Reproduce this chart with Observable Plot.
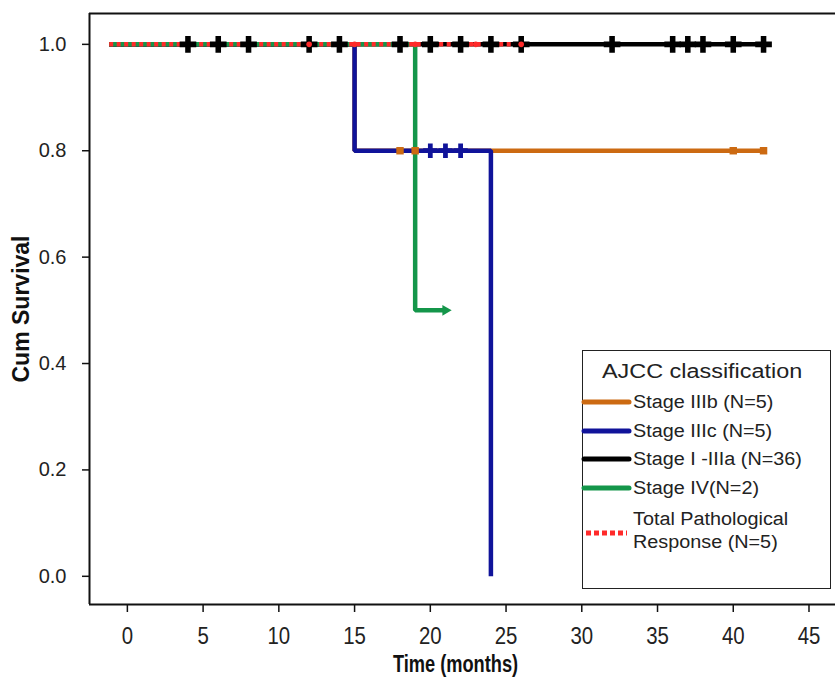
<!DOCTYPE html>
<html>
<head>
<meta charset="utf-8">
<script src="https://cdn.jsdelivr.net/npm/d3@7"></script>
<script src="https://cdn.jsdelivr.net/npm/@observablehq/plot@0.6"></script>
<style>
  html, body { margin: 0; padding: 0; background: #fff; overflow: hidden; }
  #wrap { position: relative; width: 835px; height: 678px; font-family: "Liberation Sans", Arial, sans-serif; color: #222; }
  #legend { position: absolute; left: 582px; top: 350px; width: 249px; height: 239px; border: 1.5px solid #222; background: #fff; box-sizing: border-box; }
  #legend .title { position: absolute; left: 19px; top: 370px; font-size: 20px; white-space: nowrap; transform-origin: left center; transform: translateY(-50%) scaleX(1.17); }
  #legend .lbl { position: absolute; left: 50px; font-size: 18px; white-space: nowrap; transform-origin: left center; transform: translateY(-50%) scaleX(1.1); }
  #legend svg { position: absolute; left: 0; overflow: visible; }
</style>
</head>
<body>
<div id="wrap"><div id="chart"></div><div id="legend"></div></div>
<script>
// ---------------- data ----------------
const seriesNames = ["Stage IIIb (N=5)", "Stage IIIc (N=5)", "Stage I -IIIa (N=36)", "Stage IV(N=2)", "Total Pathological Response (N=5)"];
const seriesColors = ["#cc6a12", "#10139a", "#000000", "#14964a", "#ff2a2a"];

// Kaplan–Meier step points (time in months, cumulative survival)
const stageIIIbTime = [-1.2, 15, 42];
const stageIIIbSurv = [1.0, 0.8, 0.8];
const stageIIIcTime = [-1.2, 15, 24];
const stageIIIcSurv = [1.0, 0.8, 0.0];
const stageIaTime   = [-1.2, 42];
const stageIaSurv   = [1.0, 1.0];
const stageIVTime   = [-1.2, 19, 20.9];
const stageIVSurv   = [1.0, 0.5, 0.5];
const tprTime       = [-1.2, 26];
const tprSurv       = [1.0, 1.0];

// censored observations
const stageIaCensor   = [4, 6, 8, 12, 14, 18, 20, 22, 24, 26, 32, 36, 37, 38, 40, 42];
const stageIIIcCensor = [20, 21, 22];
const stageIIIbCensor = [18, 19, 40, 42];
const tprCensor       = [12, 15, 19, 23, 26];
const stageIVCensor   = [21.0];

const xTicks = [0, 5, 10, 15, 20, 25, 30, 35, 40, 45];
const yTicks = [0.0, 0.2, 0.4, 0.6, 0.8, 1.0];
const xDomain = [-2.5, 46.75];
const yDomain = [-0.053, 1.058];
const xTitle = "Time (months)";
const yTitle = "Cum Survival";

// ---------------- build ----------------
const pts = (ts, ss) => ts.map((t, i) => ({t, s: ss[i]}));
const cens = (ts, s) => ts.map(t => ({t, s}));
const lineOpts = (color, extra) => Object.assign({x: "t", y: "s", curve: "step-after", stroke: color, strokeWidth: 4.5, strokeLinecap: "butt", strokeLinejoin: "miter"}, extra || {});

const chart = Plot.plot({
  width: 835,
  height: 678,
  marginLeft: 89,
  marginRight: 0,
  marginTop: 13,
  marginBottom: 74,
  x: {domain: xDomain},
  y: {domain: yDomain},
  style: {fontFamily: "Liberation Sans, Arial, sans-serif", fontSize: "16px", color: "#222", background: "#fff", overflow: "visible"},
  marks: [
    Plot.ruleX([xDomain[0]], {stroke: "#111", strokeWidth: 2}),
    Plot.ruleY([yDomain[1], yDomain[0]], {stroke: "#111", strokeWidth: 2}),
    Plot.axisX({ticks: xTicks, tickSize: 8, tickPadding: 14, fontSize: 24, label: null, stroke: "#111", strokeWidth: 1.5, fill: "#222"}),
    Plot.axisY({ticks: yTicks, tickFormat: d3.format(".1f"), tickSize: 7, tickPadding: 16, fontSize: 20, label: null, stroke: "#111", strokeWidth: 1.5, fill: "#222"}),
    Plot.text([yTitle], {frameAnchor: "left", textAnchor: "middle", lineAnchor: "middle", dx: -68, rotate: -90, fontWeight: "bold", fontSize: 23, text: d => d, fill: "#111"}),
    Plot.text([xTitle], {frameAnchor: "bottom", textAnchor: "middle", lineAnchor: "middle", dx: -7, dy: 60, fontWeight: "bold", fontSize: 24, text: d => d, fill: "#111"}),
    // survival curves
    Plot.line(pts(stageIIIbTime, stageIIIbSurv), lineOpts(seriesColors[0])),
    Plot.line(pts(stageIIIcTime, stageIIIcSurv), lineOpts(seriesColors[1])),
    Plot.line(pts(stageIaTime, stageIaSurv), lineOpts(seriesColors[2])),
    Plot.line(pts(stageIVTime, stageIVSurv), lineOpts(seriesColors[3])),
    Plot.line(pts(tprTime, tprSurv), lineOpts(seriesColors[4], {strokeDasharray: "4,3.5"})),
    // censor marks
    Plot.dot(cens(stageIaCensor, 1.0), {x: "t", y: "s", symbol: "cross", r: 7, fill: seriesColors[2], stroke: null}),
    Plot.dot(cens(tprCensor, 1.0), {x: "t", y: "s", symbol: "circle", r: 2.8, fill: seriesColors[4], stroke: null}),
    Plot.dot(cens(stageIIIcCensor, 0.8), {x: "t", y: "s", symbol: "cross", r: 6, fill: seriesColors[1], stroke: null}),
    Plot.dot(cens(stageIIIbCensor, 0.8), {x: "t", y: "s", symbol: "square", r: 4.2, fill: seriesColors[0], stroke: null}),
    Plot.dot(cens(stageIVCensor, 0.5), {x: "t", y: "s", symbol: "triangle", rotate: 90, r: 4, fill: seriesColors[3], stroke: null})
  ]
});

// condensed look of the horizontal-axis text (tick labels and title)
const xTickStrings = new Set(xTicks.map(String));
function condense(t, k) {
  let tr = t.getAttribute("transform");
  if (!tr) {
    const x = t.getAttribute("x") || 0, y = t.getAttribute("y") || 0;
    t.removeAttribute("x"); t.removeAttribute("y");
    tr = `translate(${x},${y})`;
  }
  t.setAttribute("transform", tr + ` scale(${k},1)`);
}
chart.querySelectorAll("text").forEach(t => {
  const s = t.textContent.trim();
  if (s === xTitle) condense(t, 0.76);
  else if (xTickStrings.has(s)) condense(t, 0.85);
});
document.getElementById("chart").appendChild(chart);

// ---------------- legend ----------------
const legend = document.getElementById("legend");
const boxTop = 350;
const title = document.createElement("div");
title.className = "title";
title.textContent = "AJCC classification";
title.style.top = (370 - boxTop) + "px";
legend.appendChild(title);

const rowY = [401, 430, 458, 487];
const ns = "http://www.w3.org/2000/svg";
function swatch(y, color, dash) {
  const s = document.createElementNS(ns, "svg");
  s.setAttribute("width", 48); s.setAttribute("height", 10);
  s.style.top = (y - boxTop - 5) + "px";
  const l = document.createElementNS(ns, "line");
  l.setAttribute("x1", dash ? 3 : 1); l.setAttribute("x2", dash ? 44 : 46);
  l.setAttribute("y1", 5); l.setAttribute("y2", 5);
  l.setAttribute("stroke", color); l.setAttribute("stroke-width", 5);
  if (dash) l.setAttribute("stroke-dasharray", dash); else l.setAttribute("stroke-linecap", "round");
  s.appendChild(l);
  legend.appendChild(s);
}
function label(y, text) {
  const d = document.createElement("div");
  d.className = "lbl"; d.textContent = text;
  d.style.top = (y - boxTop) + "px";
  legend.appendChild(d);
}
for (let i = 0; i < 4; i++) { swatch(rowY[i], seriesColors[i]); label(rowY[i], seriesNames[i]); }
swatch(532, seriesColors[4], "5,3");
label(518, "Total Pathological");
label(541, "Response (N=5)");
</script>
</body>
</html>
